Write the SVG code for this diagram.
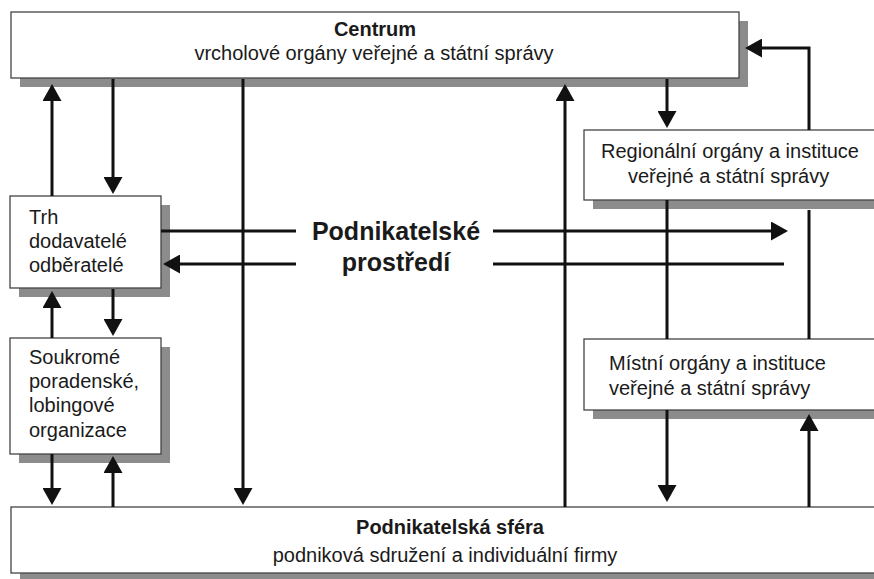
<svg xmlns="http://www.w3.org/2000/svg" width="874" height="579" viewBox="0 0 874 579">
<style>
.box{fill:#fff;stroke:#444;stroke-width:1.3}
.sh{fill:#8c8c8c}
.t{font-family:"Liberation Sans",Arial,Helvetica,sans-serif;font-size:20px;fill:#1a1a1a}
.b{font-weight:bold}
.c{stroke:#111;stroke-width:3;fill:none}
.a{marker-end:url(#ah)}
</style>
<defs>
<marker id="ah" markerUnits="userSpaceOnUse" markerWidth="17" markerHeight="19" refX="9" refY="9.5" orient="auto">
<path d="M0,0 L17,9.5 L0,19 z" fill="#111"/>
</marker>
</defs>
<rect width="874" height="579" fill="#fff"/>
<g id="centrum">
<rect class="sh" x="20" y="21" width="728" height="66"/>
<rect class="box" x="11" y="12" width="728" height="66"/>
<text class="t b" x="375" y="36" text-anchor="middle">Centrum</text>
<text class="t" x="374" y="60" text-anchor="middle">vrcholové orgány veřejné a státní správy</text>
</g>
<g id="regionalni">
<rect class="sh" x="593" y="139" width="300" height="70"/>
<rect class="box" x="584" y="130" width="300" height="70"/>
<text class="t" x="601" y="158">Regionální orgány a instituce</text>
<text class="t" x="628" y="183">veřejné a státní správy</text>
</g>
<g id="mistni">
<rect class="sh" x="593" y="348" width="300" height="71"/>
<rect class="box" x="584" y="339" width="300" height="71"/>
<text class="t" x="609" y="370">Místní orgány a instituce</text>
<text class="t" x="609" y="395">veřejné a státní správy</text>
</g>
<g id="trh">
<rect class="sh" x="19" y="205" width="151" height="92"/>
<rect class="box" x="10" y="196" width="151" height="92"/>
<text class="t" x="29" y="224">Trh</text>
<text class="t" x="29" y="248">dodavatelé</text>
<text class="t" x="29" y="272">odběratelé</text>
</g>
<g id="soukrome">
<rect class="sh" x="19" y="347" width="151" height="116"/>
<rect class="box" x="10" y="338" width="151" height="116"/>
<text class="t" x="29" y="364">Soukromé</text>
<text class="t" x="29" y="388">poradenské,</text>
<text class="t" x="29" y="412">lobingové</text>
<text class="t" x="29" y="437">organizace</text>
</g>
<g id="podnikatelska-sfera">
<rect class="sh" x="20" y="516" width="880" height="66"/>
<rect class="box" x="11" y="507" width="880" height="66"/>
<text class="t b" x="450" y="534" text-anchor="middle">Podnikatelská sféra</text>
<text class="t" x="445" y="562" text-anchor="middle">podniková sdružení a individuální firmy</text>
</g>
<g id="prostredi">
<text class="t b" x="396" y="240" text-anchor="middle" style="font-size:25px">Podnikatelské</text>
<text class="t b" x="396" y="271" text-anchor="middle" style="font-size:25px">prostředí</text>
</g>
<g id="connectors">
<path class="c a" d="M52,196 V92"/>
<path class="c a" d="M113,79 V186"/>
<path class="c a" d="M243,79 V497"/>
<path class="c a" d="M565,507 V92"/>
<path class="c a" d="M667,79 V120"/>
<path class="c a" d="M809,130 V48 H753"/>
<path class="c" d="M667,200 V339"/>
<path class="c" d="M809,210 V339"/>
<path class="c a" d="M667,410 V494"/>
<path class="c a" d="M809,507 V422"/>
<path class="c a" d="M52,338 V299"/>
<path class="c a" d="M113,289 V328"/>
<path class="c a" d="M52,454 V497"/>
<path class="c a" d="M113,507 V464"/>
<path class="c" d="M161,231 H296"/>
<path class="c a" d="M493,231 H780"/>
<path class="c a" d="M296,264 H171"/>
<path class="c" d="M493,264 H784"/>
</g>
</svg>
